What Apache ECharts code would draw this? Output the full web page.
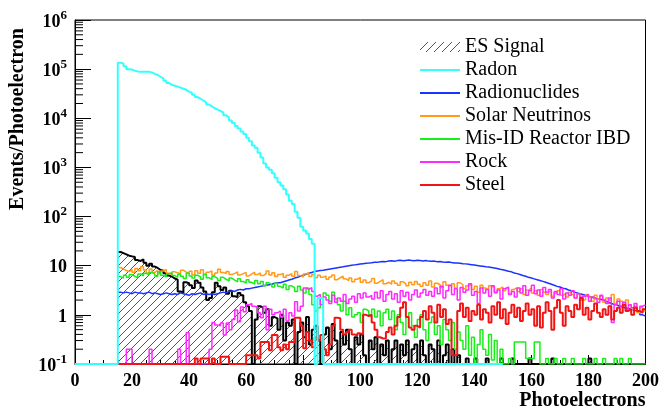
<!DOCTYPE html>
<html>
<head>
<meta charset="utf-8">
<script src="https://cdn.jsdelivr.net/npm/echarts@6/dist/echarts.min.js"></script>
<style>
  html, body { margin: 0; padding: 0; background: #fff; }
  #chart { width: 662px; height: 411px; }
</style>
</head>
<body>
<div id="chart"></div>
<script>
// histogram contents, one value per 1 PE bin (0 = empty bin, drawn on the floor)
var xTicks = [0, 20, 40, 60, 80, 100, 120, 140, 160, 180, 200];

// Radon: bins 0..149
var radonStart = 0;
var radon = [
  0, 0, 0, 0, 0, 0, 0, 0, 0, 0, 0, 0, 0, 0, 0,
  135000, 130000, 115000, 100000, 98000, 93000, 90000, 88000, 88000, 89000,
  88000, 86000, 80000, 76000, 70000, 65000, 58000, 52000, 48000, 46000,
  44000, 42000, 40000, 38000, 35000, 33000, 30000, 27000, 25000, 23000,
  21000, 19000, 17500, 16000, 15000, 14200, 13000, 11500, 10500, 9000,
  8000, 7000, 6200, 5400, 4800, 4000, 3400, 2800, 2500, 2000,
  1600, 1200, 1000, 900, 760, 620, 500, 430, 360, 280,
  210, 180, 125, 95, 62, 52, 45, 35, 28,
  0, 2.2, 2.2,
  0, 0, 0, 0, 0, 0, 0, 0, 0, 0, 0, 0, 0, 0, 0, 0, 0, 0, 0, 0, 0,
  0, 0, 0, 0, 0, 0, 0, 0, 0, 0, 0, 0, 0, 0, 0, 0, 0, 0, 0, 0, 0,
  0, 0, 0, 0, 0, 0, 0, 0, 0, 0, 0, 0, 0, 0, 0, 0, 0, 0, 0, 0, 0
];

// all other histograms: bins 15..199
var binStart = 15;

var esSignal = [
  19, 18, 17, 16, 15.5, 15, 13, 12.5, 13.5, 11.5, 10, 11, 9.6, 9.0, 8.2, 7.9, 7.0, 6.3, 6.0, 5.5,
  5.2, 3.0, 2.8, 4.6, 4.4, 4.0, 3.5, 5.0, 4.5, 3.6, 3.0, 2.0, 2.2, 2.9, 4.5, 3.8, 3.2, 3.6, 2.7, 3.1,
  2.4, 2.3, 2.8, 2.5, 1.8, 1.5, 1.2, 0, 0.8, 1.5, 1.4, 1.1, 1.3, 0.6, 0.9, 0.85, 0.5, 1.0, 0.3, 0.7,
  0.6, 0.8, 0, 0.45, 0.7, 0.35, 0.9, 0.25, 0.5, 0.6, 0.3, 0, 0.4, 0.55, 0.2, 0.65, 0.3, 0, 0.45, 0.25,
  0.5, 0.2, 0, 0.35, 0.25, 0.4, 0.15, 0, 0.3, 0.2, 0.35, 0, 0.25, 0.15, 0.3, 0, 0.2, 0.3, 0, 0.25,
  0.15, 0.3, 0, 0.2, 0.25, 0, 0.3, 0.15, 0, 0.25, 0.2, 0, 0.3, 0, 0.15, 0.25, 0, 0.2, 0, 0.15,
  0, 0, 0.13, 0, 0, 0.13, 0, 0, 0, 0.13, 0, 0, 0, 0, 0.13, 0, 0, 0, 0.13, 0,
  0, 0, 0, 0, 0.13, 0, 0, 0, 0, 0, 0, 0, 0.13, 0, 0, 0, 0, 0, 0, 0,
  0, 0, 0, 0, 0, 0.13, 0, 0, 0, 0, 0, 0, 0, 0, 0, 0, 0, 0, 0, 0, 0, 0, 0, 0, 0
];

var radionuclides = [
  2.9, 2.8, 2.9, 2.8, 2.7, 2.9, 2.8, 2.8, 2.7, 2.8, 2.9, 2.7, 2.8, 2.7, 2.6, 2.7, 2.8,
  2.7, 2.6, 2.7, 2.6, 2.8, 2.7, 2.6, 2.5, 2.7, 2.6, 2.7, 2.8, 2.6, 2.7, 2.6, 2.7, 2.6,
  2.7, 2.8, 2.9, 2.8, 3.0, 3.1, 3.0, 3.2, 3.3, 3.2, 3.4, 3.4,
  3.5, 3.6, 3.7, 3.8, 3.9, 4.0, 4.1, 4.2, 4.4, 4.5, 4.5, 4.7,
  4.9, 5.1, 5.3, 5.6, 5.8, 6.1, 6.4, 6.7, 7.0, 7.3, 7.6, 7.8, 8.0,
  8.1, 8.3, 8.5, 8.7, 8.9, 9.1, 9.3, 9.5, 9.8, 10.0, 10.2, 10.4, 10.6, 10.8, 11.0,
  11.2, 11.3, 11.5, 11.8, 11.7, 12.0, 12.2, 12.1, 12.5, 12.6, 12.3, 12.7, 12.9, 12.6, 12.8, 13.0, 12.8, 12.6, 12.9, 12.7,
  12.5, 12.7, 12.4, 12.3, 12.4, 12.1, 12.2, 11.9, 11.8, 11.9, 11.6, 11.4, 11.3, 11.2, 11.0, 10.9, 10.7, 10.5, 10.3, 10.1,
  9.9, 9.7, 9.5, 9.4, 9.2, 9.0, 8.8, 8.5, 8.3, 8.0, 7.7, 7.5, 7.1, 6.9, 6.6, 6.3, 6.1, 5.8, 5.6, 5.4,
  5.2, 5.0, 4.8, 4.6, 4.4, 4.2, 4.0, 3.8, 3.7, 3.5, 3.4, 3.2, 3.1, 2.9, 2.8, 2.7, 2.6, 2.5, 2.4, 2.3,
  2.2, 2.1, 2.1, 2.0, 1.9, 1.8, 1.7, 1.65, 1.6, 1.5, 1.45, 1.4, 1.35, 1.3, 1.25, 1.2, 1.1, 1.0, 0.95
];

var solarNeutrinos = [
  9.2, 8.5, 8.0, 7.6, 8.3, 7.4, 8.8, 7.9, 9.5, 8.2, 7.1, 8.6, 7.3, 8.0, 6.9, 7.8, 8.4, 7.0, 6.6, 7.5,
  7.2, 6.8, 8.1, 7.4, 6.9, 7.7, 6.5, 7.9, 7.0, 8.3, 6.7, 7.4, 7.8, 6.4, 7.1, 8.5, 7.3, 6.9, 7.6, 6.6,
  7.0, 7.5, 6.5, 6.9, 7.3, 6.2, 6.8, 7.4, 6.6, 7.1, 6.3, 6.9, 7.8, 6.5, 7.2, 6.0, 6.6, 7.0, 5.8, 6.4,
  6.9, 6.1, 7.6, 6.3, 5.9, 6.8, 7.2, 6.0, 6.6, 5.7, 6.4, 5.8, 6.2, 5.3, 5.9, 6.5, 5.2, 5.7, 6.1, 5.4,
  5.0, 5.6, 4.7, 5.3, 5.8, 4.6, 5.1, 4.5, 4.9, 5.5, 4.4, 4.8, 5.2, 4.3, 4.6, 4.2, 4.9, 4.4, 4.0, 4.7,
  4.3, 3.9, 4.6, 4.1, 4.8, 4.2, 3.8, 4.5, 4.0, 4.9, 3.7, 4.4, 4.1, 3.6, 4.7, 4.0, 3.8, 4.3, 3.5, 4.5,
  4.1, 3.4, 3.9, 4.2, 3.3, 3.8, 2.9, 4.0, 3.5, 3.2, 3.9, 3.6, 2.8, 3.4, 3.7, 3.1, 3.5, 2.7, 3.3, 3.6,
  3.0, 3.4, 2.6, 3.2, 3.5, 2.8, 3.1, 2.5, 3.3, 2.9, 2.6, 3.0, 2.4, 2.8, 3.1, 2.5, 2.7, 2.3, 2.9, 2.6,
  2.2, 2.7, 2.4, 2.0, 2.6, 2.3, 1.9, 2.5, 2.1, 2.4, 1.8, 2.2, 2.0, 2.6, 1.7, 2.1, 1.9, 1.6, 2.0, 1.6, 1.3, 1.5, 1.1, 1.4, 1.2
];

var misIdIbd = [
  6.0, 5.6, 6.4, 5.8, 6.6, 6.1, 5.7, 6.8, 6.2, 7.0, 6.5, 7.3, 6.8, 6.1, 7.5, 6.4, 5.9, 6.9, 7.2, 6.3,
  5.8, 6.7, 6.1, 5.5, 7.0, 6.2, 5.6, 6.4, 5.9, 5.3, 6.6, 5.7, 5.2, 6.0, 5.5, 5.0, 5.8, 5.3, 4.9, 5.6,
  5.1, 4.7, 5.4, 4.8, 4.4, 5.2, 4.6, 4.2, 5.0, 4.3, 4.8, 3.9, 4.5, 4.1, 3.7, 4.4, 3.8, 3.5, 4.2, 3.3,
  3.9, 3.6, 3.0, 3.8, 3.2, 2.8, 3.5, 2.6, 1.6, 1.2,
  1.4, 2.2, 2.8, 2.5, 1.9, 2.9, 2.1, 1.6, 1.2, 1.9, 1.0, 1.4, 0.9, 1.0, 1.1, 0.7, 1.3, 1.2, 1.0, 1.3,
  0.9, 1.2, 0.6, 1.1, 1.3, 0.8, 1.2, 0.5, 1.0, 0.7, 0.4, 0.9, 1.1, 0.6, 0.35, 0.8, 1.0, 0.5, 0.3, 0.7,
  0.9, 0.4, 0.6, 0.25, 0.8, 0.5, 0.3, 0.7, 0.2, 0.45, 0.3, 0.2, 0.6, 0.15, 0.35, 0, 0.25, 0.5, 0.2, 0.15, 0.4, 0.12, 0.3, 0, 0.2,
  0, 0, 0.13, 0, 0.28, 0.28, 0.28, 0.28, 0.13, 0.13,
  0.13, 0.28, 0.28, 0, 0, 0.13, 0, 0, 0.13, 0,
  0, 0.13, 0, 0, 0.13, 0, 0, 0, 0.13, 0,
  0, 0, 0.13, 0, 0, 0.13, 0, 0, 0, 0.13,
  0, 0.13, 0, 0, 0.13, 0, 0, 0, 0, 0
];

var rock = [
  0, 0, 0, 0.2, 0.2, 0, 0, 0, 0, 0, 0, 0.2, 0, 0, 0, 0, 0, 0, 0, 0, 0, 0.2, 0, 0, 0.43, 0, 0, 0, 0, 0, 0, 0, 0.2,
  0.7, 0.62, 0.6, 0.68, 0.39, 0.68, 0.5, 0.8, 1.25, 0.72, 1.45, 1.15, 1.6, 1.7, 1.5, 1.45, 1.1,
  0.87, 1.5, 0.5, 1.3, 1.0, 1.1, 1.2, 0.9, 1.3, 0.75, 1.1, 0.95, 1.85, 1.2, 1.5, 3.5, 3.3, 3.6, 3.0, 2.4,
  2.6, 1.6, 2.3, 2.0, 1.7, 2.5, 1.8, 2.2, 1.9, 2.6, 1.7, 2.1, 2.4, 1.8, 2.7, 2.2, 2.8, 2.3, 2.5, 2.1,
  2.9, 2.2, 3.1, 1.9, 2.6, 3.0, 2.1, 2.7, 1.8, 3.1, 2.4, 2.9, 2.0, 2.6, 3.2, 2.3, 2.8, 3.3, 2.5, 3.0,
  2.4, 3.5, 2.7, 3.8, 2.2, 3.1, 4.0, 2.6, 3.4, 2.0, 3.6, 2.9, 3.2, 4.3, 2.5, 3.0, 1.7, 3.5, 2.8, 3.3,
  2.4, 3.9, 2.9, 3.2, 2.1, 3.4, 3.7, 2.6, 3.0, 2.3, 3.5, 2.8, 3.9, 2.5, 3.1, 4.0, 2.7, 3.2, 2.4, 3.6,
  2.9, 3.3, 2.2, 3.0, 2.6, 3.4, 2.1, 2.8, 2.5, 3.1, 2.2, 2.7, 2.0, 2.4, 2.6, 1.9, 2.3, 2.1, 1.8, 2.5,
  2.0, 1.7, 2.2, 0.7, 1.6, 1.9, 1.5, 1.8, 1.3, 1.6, 1.4, 1.7, 1.2, 1.5, 1.6
];

var steel = [
  0, 0, 0, 0, 0, 0, 0, 0, 0, 0, 0, 0, 0, 0, 0, 0, 0, 0, 0, 0, 0, 0, 0, 0, 0, 0, 0,
  0.13, 0, 0.13, 0.13, 0.13, 0, 0.13,
  0, 0, 0.14, 0.14, 0.14, 0, 0, 0, 0, 0, 0, 0.15, 0.15, 0.15, 0.15, 0.13,
  0.28, 0.28, 0.28, 0.19, 0.39, 0.39, 0.22, 0.19, 0.25, 0.2, 0.28, 0.28, 0.87, 0.87, 0.6, 0.21, 0.45, 0.3, 0.22, 0.35,
  0.3, 0.39, 0.2, 0.15, 0.25, 0.6, 0.87, 0.85, 0.5, 0.4, 0.45, 0.5, 0.4, 0.38, 0.42, 0.4, 1.0, 0.95, 1.0, 0.7,
  0.5, 0.35, 0.33, 0.33, 0.45, 0.55, 0.4, 0.6, 0.9, 1.4, 1.8, 0.9, 0.55, 0.5, 0.6, 0.55, 0.9, 1.2, 0.8, 1.5,
  1.1, 0.7, 1.6, 0.9, 1.3, 0.65, 0.8, 0.15, 0.15, 1.2, 1.7, 0.9, 1.4, 0.75, 1.2, 1.0, 1.6, 0.8, 1.3, 1.1,
  0.7, 1.5, 1.0, 1.8, 0.85, 1.3, 0.65, 1.1, 1.6, 0.9, 1.4, 0.75, 1.2, 1.7, 1.0, 1.3, 0.6, 1.5, 0.55, 1.1,
  1.8, 1.2, 0.5, 1.4, 2.0, 1.1, 0.6, 1.5, 1.2, 0.9, 1.6, 1.3, 2.2, 1.0, 1.4, 0.8, 1.2, 1.7, 1.1, 0.9,
  1.3, 1.0, 1.5, 0.8, 1.2, 1.4, 1.1, 1.6, 1.2, 1.3, 1.0, 1.4, 1.2, 1.1, 1.3
];

var FLOOR = 0.1;
var FONT = 'Liberation Serif';

// bins -> step points (low edges + closing edge)
function hist(start, vals) {
    var pts = vals.map(function (v, i) { return [start + i, Math.max(v, FLOOR)]; });
    pts.push([start + vals.length, Math.max(vals[vals.length - 1], FLOOR)]);
    return pts;
}

// minor log ticks 2..9 in each decade
var minorY = [];
for (var e = -1; e < 6; e++) {
    for (var m = 2; m <= 9; m++) minorY.push([0, m * Math.pow(10, e)]);
}

// hatch pattern for ES Signal
var hatch = document.createElement('canvas');
hatch.width = 8; hatch.height = 8;
var hc = hatch.getContext('2d');
hc.strokeStyle = '#555';
hc.lineWidth = 1;
[-8, 0, 8].forEach(function (o) {
    hc.beginPath(); hc.moveTo(o, 8); hc.lineTo(o + 8, 0); hc.stroke();
});
var hatchFill = { image: hatch, repeat: 'repeat' };

function stepSeries(name, start, vals, color, width) {
    return {
        name: name, type: 'line', step: 'end', symbol: 'none',
        data: hist(start, vals),
        lineStyle: { color: color, width: width },
        itemStyle: { color: color },
        animation: false
    };
}

// legend entry showing only the line (no marker)
function lineEntry(name) {
    return { name: name, itemStyle: { opacity: 0 } };
}

var chart = echarts.init(document.getElementById('chart'));

var es = stepSeries('ES Signal', binStart, esSignal, '#000', 2);
es.areaStyle = { color: hatchFill, origin: 'start', opacity: 1 };

var option = {
    backgroundColor: '#fff',
    animation: false,
    grid: { left: 75, right: 16, top: 20, bottom: 47, show: true, borderColor: '#000', borderWidth: 1 },
    legend: {
        orient: 'vertical', left: 414, top: 32,
        itemWidth: 40, itemHeight: 10, itemGap: 3,
        textStyle: { fontFamily: FONT, fontSize: 20, color: '#000', lineHeight: 20 },
        data: [
            { name: 'ES Signal', icon: 'rect', itemStyle: { color: hatchFill } },
            lineEntry('Radon'), lineEntry('Radionuclides'), lineEntry('Solar Neutrinos'),
            lineEntry('Mis-ID Reactor IBD'), lineEntry('Rock'), lineEntry('Steel')
        ]
    },
    xAxis: {
        type: 'value', min: 0, max: 200, interval: 20,
        axisLine: { lineStyle: { color: '#000', width: 1 } },
        axisTick: { inside: true, length: 9, lineStyle: { color: '#000' } },
        minorTick: { show: true, splitNumber: 4, length: 4, lineStyle: { color: '#000' } },
        splitLine: { show: false },
        axisLabel: { fontFamily: FONT, fontWeight: 'bold', fontSize: 18, color: '#000', margin: 8 },
        name: 'Photoelectrons', nameLocation: 'end', nameGap: 0,
        nameTextStyle: { fontFamily: FONT, fontWeight: 'bold', fontSize: 20, color: '#000',
            align: 'right', verticalAlign: 'top', padding: [27, 0, 0, 0] }
    },
    yAxis: {
        type: 'log', logBase: 10, min: 0.1, max: 1e6,
        axisLine: { lineStyle: { color: '#000', width: 1 } },
        axisTick: { inside: true, length: 16, lineStyle: { color: '#000' } },
        splitLine: { show: false },
        axisLabel: {
            margin: 8,
            formatter: function (v) {
                var p = Math.round(Math.log10(v));
                if (p === 0) return '{b|1}';
                if (p === 1) return '{b|10}';
                return '{b|10}{s|' + p + '}';
            },
            rich: {
                b: { fontFamily: FONT, fontWeight: 'bold', fontSize: 18, color: '#000', lineHeight: 22, verticalAlign: 'bottom' },
                s: { fontFamily: FONT, fontWeight: 'bold', fontSize: 13, color: '#000', lineHeight: 22, verticalAlign: 'top' }
            }
        }
    },
    graphic: [{
        type: 'text', x: 18, y: 119, rotation: Math.PI / 2,
        style: { text: 'Events/Photoelectron', fill: '#000', font: 'bold 20px "Liberation Serif"',
            textAlign: 'center', textVerticalAlign: 'middle' }
    }],
    series: [
        es,
        stepSeries('Radionuclides', binStart, radionuclides, '#1a33ff', 1.5),
        stepSeries('Solar Neutrinos', binStart, solarNeutrinos, '#ff9a1a', 1.5),
        stepSeries('Mis-ID Reactor IBD', binStart, misIdIbd, '#1aee1a', 1.5),
        stepSeries('Rock', binStart, rock, '#ff2aff', 1.5),
        stepSeries('Steel', binStart, steel, '#f01515', 2),
        stepSeries('Radon', radonStart, radon, '#33ffff', 2),
        {
            type: 'custom', silent: true, data: minorY, encode: { x: 0, y: 1 },
            renderItem: function (params, api) {
                var p = api.coord([0, api.value(1)]);
                return { type: 'line', shape: { x1: p[0], y1: p[1], x2: p[0] + 8, y2: p[1] },
                    style: { stroke: '#000', lineWidth: 1 } };
            }
        }
    ]
};
chart.setOption(option);
</script>
</body>
</html>
